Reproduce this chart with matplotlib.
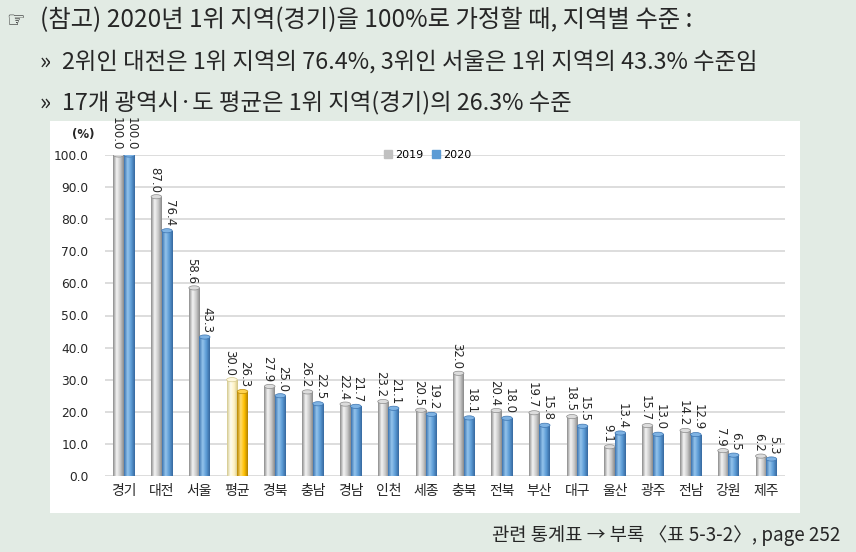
import matplotlib
matplotlib.use("Agg")
import matplotlib.pyplot as plt
import numpy as np
from matplotlib.colors import LinearSegmentedColormap
from matplotlib.patches import Rectangle, Ellipse, Patch

plt.rcParams['font.family'] = ['Noto Sans CJK KR', 'DejaVu Sans']

regions = ['경기', '대전', '서울', '평균', '경북', '충남', '경남', '인천', '세종',
           '충북', '전북', '부산', '대구', '울산', '광주', '전남', '강원', '제주']
v2019 = [100.0, 87.0, 58.6, 30.0, 27.9, 26.2, 22.4, 23.2, 20.5,
         32.0, 20.4, 19.7, 18.5, 9.1, 15.7, 14.2, 7.9, 6.2]
v2020 = [100.0, 76.4, 43.3, 26.3, 25.0, 22.5, 21.7, 21.1, 19.2,
         18.1, 18.0, 15.8, 15.5, 13.4, 13.0, 12.9, 6.5, 5.3]
yticks = [0, 10, 20, 30, 40, 50, 60, 70, 80, 90, 100]

bg = '#e2ebe4'
txt = '#262626'

# cylinder shading
cm_gray = LinearSegmentedColormap.from_list('g', ['#8c8c8c', '#f4f4f4', '#c9c9c9', '#8a8a8a'])
cm_blue = LinearSegmentedColormap.from_list('b', ['#3c74b0', '#94c4ec', '#5b9bd5', '#36689f'])
cm_ylw = LinearSegmentedColormap.from_list('y', ['#d4c98e', '#fffdf0', '#fff2c2', '#d0c383'])
cm_org = LinearSegmentedColormap.from_list('o', ['#b98700', '#ffdc70', '#ffc000', '#b08000'])
top_gray, top_blue, top_ylw, top_org = '#dcdcdc', '#7fb3e3', '#fff8dc', '#ffd24d'

fig = plt.figure(figsize=(8.56, 5.52), dpi=100)
fig.patch.set_facecolor(bg)
fig.patches.append(Rectangle((50 / 856, 1 - 513 / 552), 750 / 856, 392 / 552,
                             transform=fig.transFigure, facecolor='white',
                             edgecolor='none', zorder=0))

ax = fig.add_axes([105 / 856, 1 - 476 / 552, 680 / 856, 321 / 552])
ax.set_facecolor('none')
ax.set_zorder(2)

x = np.arange(len(regions))
w = 0.28
grad = np.linspace(0, 1, 64).reshape(1, -1)


def cyl(xc, h, cmap, topc):
    x0, x1 = xc - w / 2, xc + w / 2
    im = ax.imshow(grad, cmap=cmap, extent=(x0, x1, 0, h), aspect='auto',
                   origin='lower', zorder=3)
    r = Rectangle((x0, 0), w, h, transform=ax.transData)
    im.set_clip_path(r)
    ax.add_patch(Ellipse((xc, h), w, 1.3, facecolor=topc,
                         edgecolor=cmap(0.0), lw=0.5, zorder=4))


for i in range(len(regions)):
    if regions[i] == '평균':
        c1, t1, c2, t2 = cm_ylw, top_ylw, cm_org, top_org
    else:
        c1, t1, c2, t2 = cm_gray, top_gray, cm_blue, top_blue
    cyl(x[i] - w / 2, v2019[i], c1, t1)
    cyl(x[i] + w / 2, v2020[i], c2, t2)
    ax.annotate(f'{v2019[i]:.1f}', (x[i] - w / 2, v2019[i]), xytext=(-1.5, 3),
                textcoords='offset points', rotation=270, ha='center', va='bottom',
                fontsize=8.5, color=txt, family='DejaVu Sans', zorder=6,
                annotation_clip=False)
    ax.annotate(f'{v2020[i]:.1f}', (x[i] + w / 2, v2020[i]), xytext=(1.5, 3),
                textcoords='offset points', rotation=270, ha='center', va='bottom',
                fontsize=8.5, color=txt, family='DejaVu Sans', zorder=6,
                annotation_clip=False)

ax.set_xlim(-0.5, len(regions) - 0.5)
ax.set_ylim(0, 100)
ax.set_yticks(yticks)
ax.set_yticklabels([f'{t:.1f}' for t in yticks], fontsize=8.8, color=txt,
                   family='DejaVu Sans')
ax.set_xticks(x)
ax.set_xticklabels(regions, fontsize=10, color=txt)
ax.tick_params(length=0)
ax.tick_params(axis='y', pad=12)
ax.tick_params(axis='x', pad=6)
ax.grid(axis='y', color='#dadada', lw=1.3, zorder=1)
ax.set_axisbelow(True)
for s in ax.spines.values():
    s.set_visible(False)

ax.text(-0.78, 106.5, '(%)', fontsize=8.5, fontweight='bold', color=txt,
        ha='right', va='center', family='DejaVu Sans')

ax.legend(handles=[Patch(color='#c0c0c0', label='2019'),
                   Patch(color='#5b9bd5', label='2020')],
          loc='center', bbox_to_anchor=(0.475, 1.0), ncol=2, frameon=False,
          handlelength=0.7, handleheight=0.7, handletextpad=0.3,
          columnspacing=0.8, prop={'family': 'DejaVu Sans', 'size': 8})

fs = 16.8
fig.text(6 / 856, 1 - 21 / 552, '☞', fontsize=15, color=txt, va='center',
         family=['DejaVu Sans'])
fig.text(40 / 856, 1 - 20 / 552, '(참고) 2020년 1위 지역(경기)을 100%로 가정할 때, 지역별 수준 :',
         fontsize=17.5, color=txt, va='center')
fig.text(40 / 856, 1 - 62 / 552, '»', fontsize=fs, color=txt, va='center')
fig.text(62 / 856, 1 - 62 / 552, '2위인 대전은 1위 지역의 76.4%, 3위인 서울은 1위 지역의 43.3% 수준임',
         fontsize=fs, color=txt, va='center')
fig.text(40 / 856, 1 - 103 / 552, '»', fontsize=fs, color=txt, va='center')
fig.text(62 / 856, 1 - 103 / 552, '17개 광역시·도 평균은 1위 지역(경기)의 26.3% 수준',
         fontsize=fs, color=txt, va='center')
fig.text(840 / 856, 1 - 535 / 552, '관련 통계표 → 부록 〈표 5-3-2〉, page 252',
         fontsize=13.5, color=txt, va='center', ha='right')

fig.savefig('out.png', dpi=100, facecolor=bg)
